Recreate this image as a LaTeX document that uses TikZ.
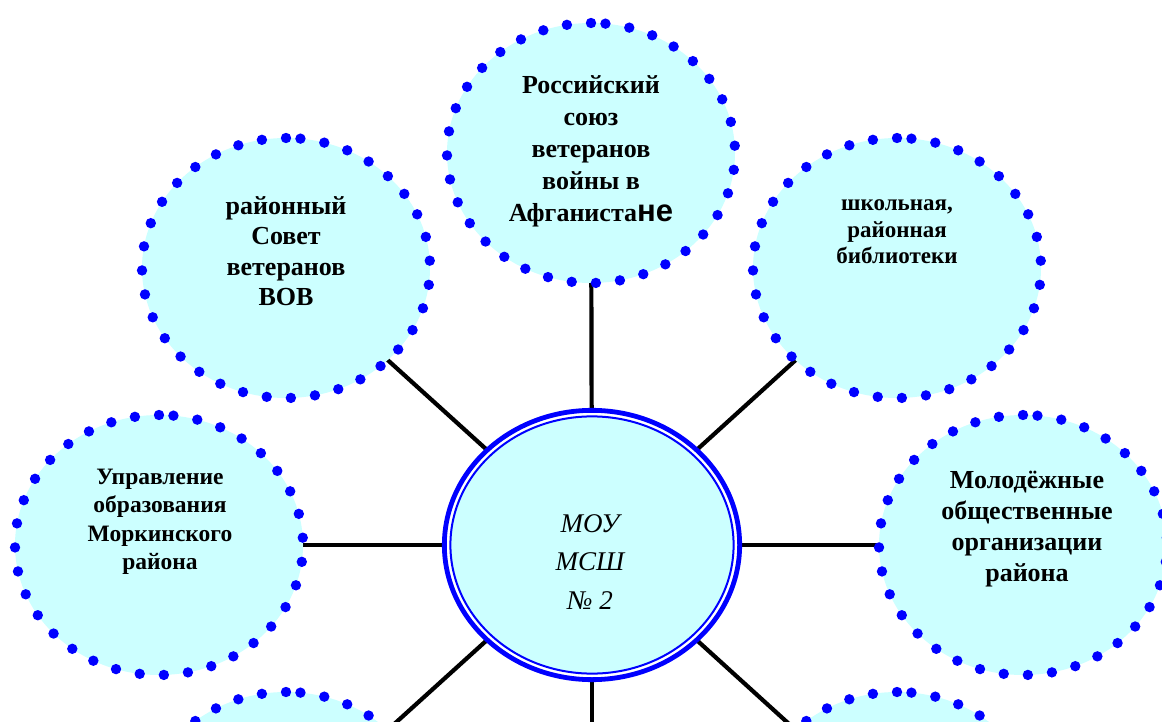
\documentclass[tikz,border=0pt]{standalone}
\usepackage{fontspec}
\setmainfont{Liberation Serif}
\newfontfamily\sansbold{Liberation Sans}
\usetikzlibrary{shapes.geometric}
\pgfdeclarelayer{background}
\pgfsetlayers{background,main}
\definecolor{fillcyan}{HTML}{CCFFFF}
\definecolor{dotblue}{HTML}{0000FF}
\tikzset{
  bubble/.style={ellipse, fill=fillcyan, draw=none, inner sep=0pt, outer sep=0pt,
    minimum width=288pt, minimum height=260pt},
  dotring/.style={draw=dotblue, line width=10.4pt, line cap=round, dash pattern=on 0pt off 24.2pt},
  conn/.style={draw=black, line width=4.2pt},
  label/.style={align=center, inner sep=0pt, font=\bfseries},
}
\begin{document}
\begin{tikzpicture}[x=1pt,y=-1pt]
\useasboundingbox (0,0) rectangle (1162,722);
\clip (0,0) rectangle (1162,722);
\begin{pgfonlayer}{background}
\fill[white] (0,0) rectangle (1162,722);
\end{pgfonlayer}
% outer bubbles
\node[bubble] (t)  at (591,153) {};
\node[bubble] (tl) at (286,268) {};
\node[bubble] (tr) at (897,268) {};
\node[bubble] (l)  at (159,545) {};
\node[bubble] (r)  at (1023,545) {};
\node[bubble] (bl) at (286,822) {};
\node[bubble] (br) at (897,822) {};
\foreach \n in {t,tl,tr,l,r,bl,br}{
  \draw[dotring] (\n.north) arc[start angle=90, end angle=450, x radius=144pt, y radius=130pt];
}
% centre
\node[ellipse, fill=white, draw=dotblue, line width=4.8pt, inner sep=0pt, outer sep=0pt,
  minimum width=295.3pt, minimum height=269.3pt] (c) at (592,545) {};
\draw[dotblue, line width=2pt, fill=fillcyan] (c.center) ellipse [x radius=141.6pt, y radius=128.6pt];
\coordinate (bottom) at (592,760);
% connectors
\begin{pgfonlayer}{background}
\foreach \n in {t,tl,tr,l,r,bl,br,bottom}{
  \draw[conn] (c.center) -- (\n.center);
}
\end{pgfonlayer}
% texts
\node[label, font=\bfseries\fontsize{26}{32}\selectfont] (tt) at (591,151)
  {Российский\\союз\\ветеранов\\войны в\\Афганиста{\sansbold\fontsize{31}{32}\selectfont не}};
\node[label, font=\bfseries\fontsize{26}{30.5}\selectfont] (tlt) at (286,251)
  {районный\\Совет\\ветеранов\\ВОВ};
\node[label, font=\bfseries\fontsize{23}{26.5}\selectfont] (trt) at (897,232)
  {школьная,\\районная\\библиотеки};
\node[label, font=\bfseries\fontsize{23.5}{28.5}\selectfont] (lt) at (160,522)
  {Управление\\образования\\Моркинского\\района};
\node[label, font=\bfseries\fontsize{26}{31}\selectfont] (rt) at (1027,529)
  {Молодёжные\\общественные\\организации\\района};
\node[align=center, inner sep=0pt, font=\itshape\fontsize{27}{38.5}\selectfont] (ct) at (590,562)
  {МОУ\\МСШ\\№ 2};
\end{tikzpicture}
\end{document}
